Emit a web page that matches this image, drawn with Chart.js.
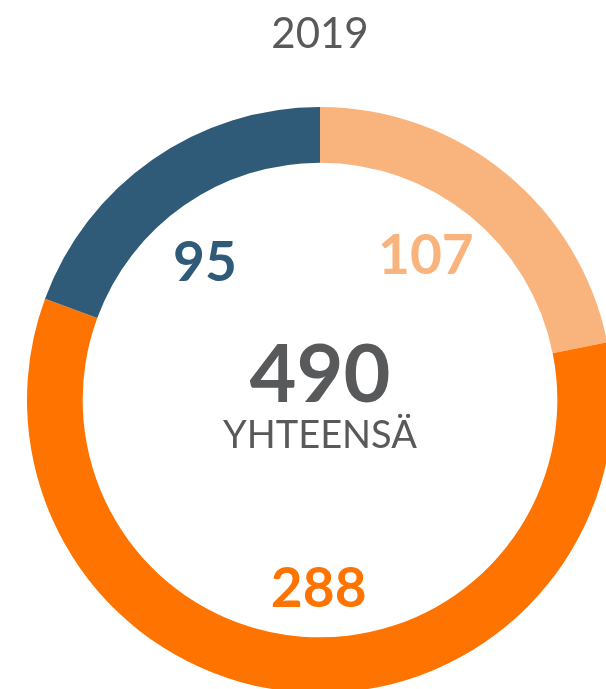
<!DOCTYPE html>
<html>
<head>
<meta charset="utf-8">
<script src="https://cdn.jsdelivr.net/npm/chart.js@4/dist/chart.umd.min.js"></script>
<style>
  html, body { margin: 0; padding: 0; background: #ffffff; overflow: hidden; width: 606px; height: 689px; }
  #wrap { position: absolute; left: 0; top: 0; width: 640px; height: 700px; }
</style>
</head>
<body>
<div id="wrap"><canvas id="c" width="640" height="700"></canvas></div>
<script>
const chartTitle = '2019';
const categories = ['A', 'B', 'C'];
const values = [107, 288, 95];
const colors = ['#F9B37C', '#FF7300', '#2F5B78'];
const totalLabel = 'YHTEENSÄ';

const FONT = 'Lato, "Open Sans", sans-serif';
const GREY = '#58595B';

const labelPlugin = {
  id: 'ringLabels',
  afterDatasetsDraw(chart) {
    const ctx = chart.ctx;
    const meta = chart.getDatasetMeta(0);
    const ds = chart.data.datasets[0];
    ctx.save();
    ctx.textAlign = 'center';
    ctx.textBaseline = 'middle';
    let cx = 0, cy = 0, outer = 0;
    meta.data.forEach((arc, i) => {
      const p = arc.getProps(['x', 'y', 'startAngle', 'endAngle', 'outerRadius'], true);
      cx = p.x; cy = p.y; outer = p.outerRadius;
      const mid = (p.startAngle + p.endAngle) / 2 - 4 * Math.PI / 180;
      const r = outer * 0.625;
      const x = p.x + Math.cos(mid) * r;
      const y = p.y + Math.sin(mid) * r + 6;
      ctx.fillStyle = colors[i];
      ctx.font = 'bold 55px ' + FONT;
      ctx.fillText(String(ds.data[i]), x, y);
    });
    const total = ds.data.reduce((a, b) => a + b, 0);
    ctx.fillStyle = GREY;
    ctx.font = 'bold 81px ' + FONT;
    ctx.fillText(String(total), cx, cy - 24);
    ctx.font = 'normal 38px ' + FONT;
    ctx.fillText(totalLabel, cx, cy + 36);
    ctx.restore();
  }
};

new Chart(document.getElementById('c'), {
  type: 'doughnut',
  data: {
    labels: categories,
    datasets: [{
      data: values,
      backgroundColor: colors,
      borderWidth: 0,
      hoverOffset: 0,
      offset: 0
    }]
  },
  options: {
    responsive: false,
    animation: false,
    events: [],
    devicePixelRatio: 1,
    cutout: '81%',
    layout: { padding: { left: 27, right: 27, top: 0, bottom: 7 } },
    plugins: {
      legend: { display: false },
      tooltip: { enabled: false },
      title: {
        display: true,
        text: chartTitle,
        color: GREY,
        font: { family: FONT, size: 42, weight: 'normal', lineHeight: 1.2 },
        padding: { top: 9, bottom: 47.6 }
      }
    }
  },
  plugins: [labelPlugin]
});
</script>
</body>
</html>
